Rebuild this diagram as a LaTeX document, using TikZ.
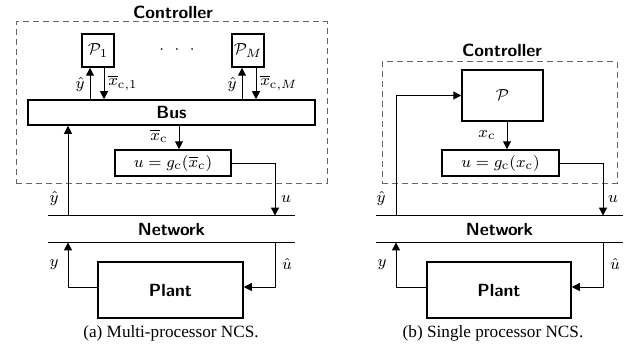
\documentclass[tikz,border=0pt]{standalone}
\usepackage{fontspec}
\usepackage{amsmath}
\newfontfamily\capfont{Liberation Serif}
\usetikzlibrary{arrows.meta,calc}
\begin{document}
\begin{tikzpicture}[x=0.5pt,y=-0.5pt,
  font=\fontsize{8}{9.5}\selectfont,
  sfb/.style={font=\fontsize{8.8}{10}\selectfont\sffamily\bfseries},
  blk/.style={draw,line width=0.75pt,inner sep=0pt,align=center},
  ttl/.style={sfb,inner sep=0pt},
  dbox/.style={draw=black!60,line width=0.5pt,dash pattern=on 3pt off 2pt,inner sep=0pt},
  net/.style={sfb,inner sep=0pt},
  netline/.style={line width=0.75pt},
  arr/.style={line width=0.5pt,-{Triangle[length=4pt,width=4pt]}},
  lbl/.style={inner sep=0pt},
  captext/.style={font=\fontsize{8.6}{10}\selectfont\capfont,inner sep=0pt}]
\useasboundingbox (0,0) rectangle (641,358);

% ---------- (a) multi-processor ----------
\node[ttl] (title1) at (173,12) {Controller};
\node[dbox,minimum width=155.5pt,minimum height=80.5pt] (ctrl1) at (171.5,102.5) {};
\node[blk,minimum width=16pt,minimum height=16.5pt] (p1) at (98,50.5) {$\mathcal{P}_1$};
\node[lbl] (dots) at (177,50) {${\cdot}\hspace{5.3pt}{\cdot}\hspace{5.3pt}{\cdot}$};
\node[blk,minimum width=16pt,minimum height=16.5pt] (pm) at (248,50.5) {$\mathcal{P}_M$};
\node[blk,sfb,minimum width=143.5pt,minimum height=12.5pt] (bus) at (171.5,112.5) {Bus};
\node[blk,minimum width=58pt,minimum height=13pt] (g1) at (173,163) {$u=g_{\mathrm{c}}(\overline{x}_{\mathrm{c}})$};
\node[net,minimum width=123.5pt,minimum height=13pt] (net1) at (171.5,229) {Network};
\draw[netline] (net1.north west) -- (net1.north east);
\draw[netline] (net1.south west) -- (net1.south east);
\node[blk,sfb,minimum width=72.5pt,minimum height=28pt] (plant1) at (170.5,290) {Plant};
\node[captext] (cap1) at (171,333) {(a) Multi-processor NCS.};

\coordinate (p1u) at ($(p1.south)+(-8,0)$);
\coordinate (p1d) at ($(p1.south)+(6,0)$);
\draw[arr] (p1u |- bus.north) -- (p1u);
\draw[arr] (p1d) -- (p1d |- bus.north);
\node[lbl] (l1a) at (80,85) {$\hat{y}$};
\node[lbl,anchor=west] (l1b) at (108,83) {$\overline{x}_{\mathrm{c},1}$};
\coordinate (pmu) at ($(pm.south)+(-6,0)$);
\coordinate (pmd) at ($(pm.south)+(8,0)$);
\draw[arr] (pmu |- bus.north) -- (pmu);
\draw[arr] (pmd) -- (pmd |- bus.north);
\node[lbl] (l1c) at (232,85) {$\hat{y}$};
\node[lbl,anchor=west] (l1d) at (260,83) {$\overline{x}_{\mathrm{c},M}$};

\coordinate (xc1) at ($(g1.north)+(6,0)$);
\draw[arr] (xc1 |- bus.south) -- (xc1);
\node[lbl] (l1e) at (159,136) {$\overline{x}_{\mathrm{c}}$};

\coordinate (u1) at (275,163);
\draw[arr] (g1.east) -- (u1) -- (u1 |- net1.north);
\node[lbl] (l1f) at (286,199) {$u$};

\coordinate (yh1) at (68,216);
\draw[arr] (yh1) -- (yh1 |- bus.south);
\node[lbl] (l1g) at (54,198) {$\hat{y}$};

\coordinate (pl1w) at ($(plant1.west)+(0,-3)$);
\coordinate (pl1e) at ($(plant1.east)+(0,-3)$);
\coordinate (y1) at (68,287);
\draw[arr] (pl1w) -- (y1) -- (y1 |- net1.south);
\node[lbl] (l1h) at (54,265) {$y$};
\coordinate (uh1) at (275,287);
\draw[arr] (uh1 |- net1.south) -- (uh1) -- (pl1e);
\node[lbl] (l1i) at (287,264) {$\hat{u}$};

% ---------- (b) single processor ----------
\node[ttl] (title2) at (502,50) {Controller};
\node[dbox,minimum width=117.5pt,minimum height=60.5pt] (ctrl2) at (499.5,122.5) {};
\node[blk,minimum width=40.5pt,minimum height=25.5pt] (p) at (502.5,95.5) {$\mathcal{P}$};
\node[blk,minimum width=58.5pt,minimum height=13pt] (g2) at (500.5,163) {$u=g_{\mathrm{c}}(x_{\mathrm{c}})$};
\node[net,minimum width=123.5pt,minimum height=13pt] (net2) at (499.5,229) {Network};
\draw[netline] (net2.north west) -- (net2.north east);
\draw[netline] (net2.south west) -- (net2.south east);
\node[blk,sfb,minimum width=72pt,minimum height=28pt] (plant2) at (499,290) {Plant};
\node[captext] (cap2) at (493,333) {(b) Single processor NCS.};

\coordinate (in2) at (396,216);
\draw[arr] (in2) -- (in2 |- p.west) -- (p.west);
\node[lbl] (l2g) at (381,198) {$\hat{y}$};
\coordinate (xc2) at (507,121);
\draw[arr] (xc2) -- (xc2 |- g2.north);
\node[lbl] (l2e) at (487,135) {$x_{\mathrm{c}}$};
\coordinate (u2) at (603,163);
\draw[arr] (g2.east) -- (u2) -- (u2 |- net2.north);
\node[lbl] (l2f) at (613,199) {$u$};

\coordinate (pl2w) at ($(plant2.west)+(0,-3)$);
\coordinate (pl2e) at ($(plant2.east)+(0,-3)$);
\coordinate (y2) at (396,287);
\draw[arr] (pl2w) -- (y2) -- (y2 |- net2.south);
\node[lbl] (l2h) at (382,265) {$y$};
\coordinate (uh2) at (603,287);
\draw[arr] (uh2 |- net2.south) -- (uh2) -- (pl2e);
\node[lbl] (l2i) at (615,264) {$\hat{u}$};
\end{tikzpicture}
\end{document}
